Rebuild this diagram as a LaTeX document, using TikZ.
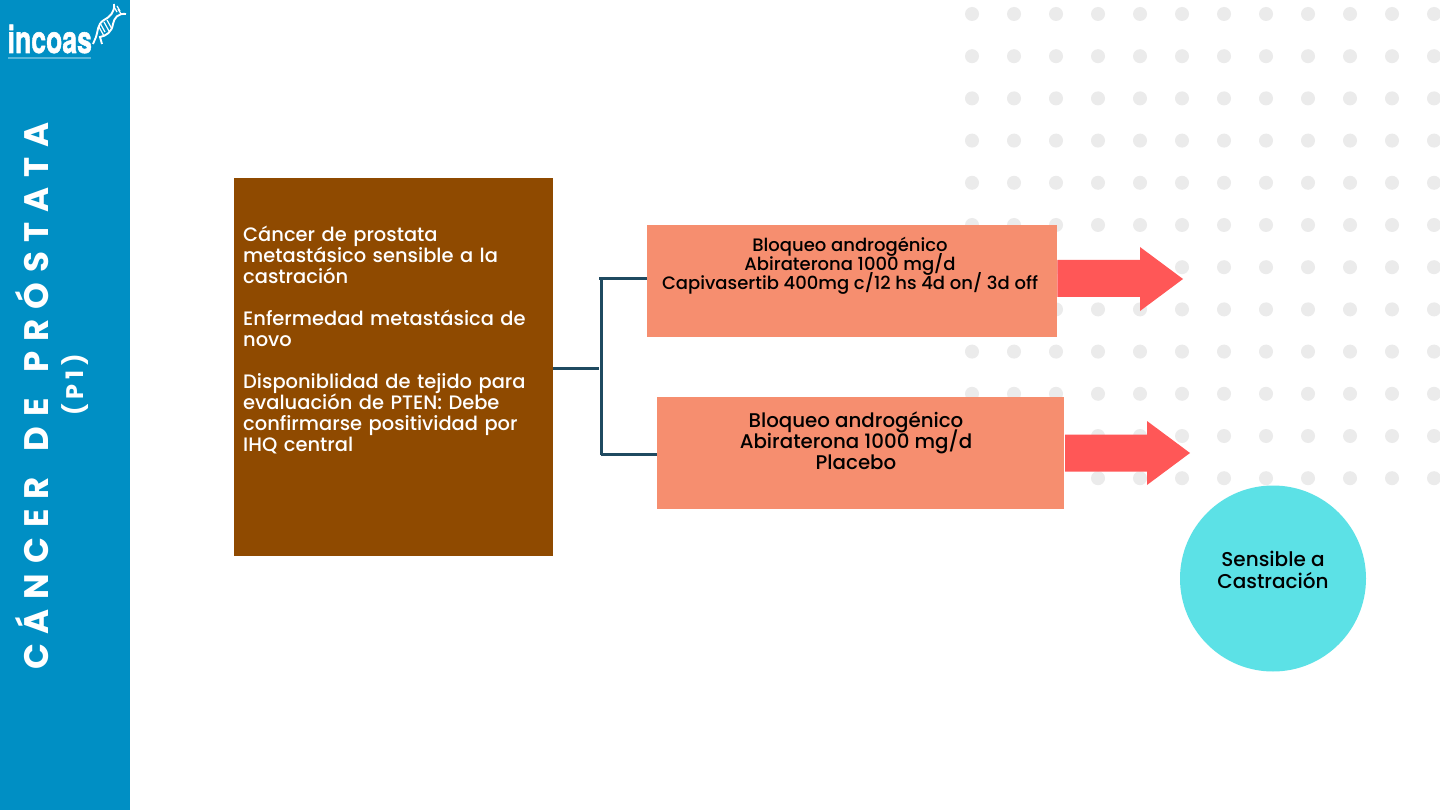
\documentclass[tikz,border=0pt]{standalone}
\usepackage{fontspec}
\setmainfont{Poppins Medium}
\newfontfamily\sidefont[LetterSpace=29]{Poppins}
\newfontfamily\subfont[LetterSpace=20]{Poppins}
\newfontfamily\logofont[FakeBold=1.5]{TeX Gyre Heros}
\usetikzlibrary{calc}
\definecolor{sidebar}{HTML}{008FC4}
\definecolor{brownbox}{HTML}{8F4A00}
\definecolor{salmon}{HTML}{F68E6F}
\definecolor{redarrow}{HTML}{FF5757}
\definecolor{cyandisc}{HTML}{5CE1E6}
\definecolor{linkblue}{HTML}{1F4A60}
\definecolor{dotgray}{HTML}{EBEBEB}
\lineskiplimit=-30pt
\tikzset{
  armbox/.style={fill=salmon,inner sep=0pt,anchor=north west,align=center},
  link/.style={draw=linkblue,line width=3pt},
  pointer/.style={fill=redarrow}
}
\begin{document}
\begin{tikzpicture}[x=1pt,y=-1pt]
\useasboundingbox (0,0) rectangle (1440,810);
\fill[white] (0,0) rectangle (1440,810);
% fondo de puntos
\foreach \i in {0,...,11}
  \foreach \j in {0,...,11}
    \fill[dotgray] (972+42*\i,14+42.2*\j) circle (7);
% barra lateral
\fill[sidebar] (0,0) rectangle (130,810);
\node[rotate=90,white,font=\sidefont\fontsize{34}{36}\selectfont\bfseries] (title) at (32.5,396) {CÁNCER\hspace{9pt} DE\hspace{9pt} PRÓSTATA};
\node[rotate=90,white,font=\subfont\fontsize{24}{24}\selectfont\bfseries] (part) at (75,385) {(P1)};
% logo
\node[white,inner sep=0pt,font=\logofont\fontsize{38}{38}\selectfont\bfseries,xscale=0.7,anchor=base west] (logo) at (7.5,53) {incoas};
\draw[white,line width=1.9pt] (114,4) .. controls (115,12) and (110,17) .. (104,20) .. controls (97,24) and (98,32) .. (96,37) -- (93,44);
\draw[white,line width=1.9pt] (126,14) .. controls (118,13) and (114,18) .. (113,24) .. controls (112,32) and (106,36) .. (100,37) -- (102,44);
\foreach \a/\b in {99/27,100/23,104/22,107/20}
  \draw[white,line width=1.2pt] (\a,\b) -- ++(5,9);
\foreach \a/\b in {114/7,117/6,118/9}
  \draw[white,line width=1.2pt] (\a,\b) -- ++(3,5);
\fill[white,opacity=0.35] (8,57) rectangle (91,59.5);
% cajas
\node[fill=brownbox,minimum width=319pt,minimum height=378pt,inner sep=0pt,anchor=north west] (main) at (234,178) {};
\node[white,anchor=north west,inner sep=0pt,align=left,text width=300pt,font=\fontsize{19.45}{21}\selectfont] (maintext) at (243,226) {Cáncer de prostata\\metastásico sensible a la\\castración\\[21pt]Enfermedad metastásica de\\novo\\[21pt]Disponiblidad de tejido para\\evaluación de PTEN: Debe\\confirmarse positividad por\\IHQ central};
\node[armbox,minimum width=410pt,minimum height=112pt] (armA) at (647,225) {};
\node[align=center,inner sep=0pt,font=\fontsize{18}{19}\selectfont] (armAtext) at (850,266) {Bloqueo androgénico\\Abiraterona 1000 mg/d\\Capivasertib 400mg c/12 hs 4d on/ 3d off};
\node[armbox,minimum width=407pt,minimum height=112pt] (armB) at (657,397) {};
\node[align=center,inner sep=0pt,font=\fontsize{19.8}{21}\selectfont] (armBtext) at (856,441) {Bloqueo androgénico\\Abiraterona 1000 mg/d\\Placebo};
\node[circle,fill=cyandisc,minimum size=186pt,inner sep=0pt] (disc) at (1273,578.5) {};
\node[align=center,inner sep=0pt,font=\fontsize{20}{22}\selectfont] (disctext) at (1273,570) {Sensible a\\Castración};
% conexiones
\coordinate (joint) at (599,368.5);
\coordinate (upper) at (601,278.5);
\coordinate (lower) at (601,454.5);
\draw[link] (main.east |- joint) -- (joint);
\draw[link] (upper) -- (lower);
\draw[link] (599,278.5) -- (armA.west |- upper);
\draw[link] (lower) -- (armB.west |- lower);
% flechas
\fill[pointer] (armA.east |- 0,260) -- (1140,260) -- (1140,247) -- (1183,279) -- (1140,311) -- (1140,297) -- (armA.east |- 0,297) -- cycle;
\fill[pointer] (1065,434.5) -- (1147,434.5) -- (1147,421) -- (1190,453) -- (1147,485) -- (1147,471.5) -- (1065,471.5) -- cycle;
\end{tikzpicture}
\end{document}
